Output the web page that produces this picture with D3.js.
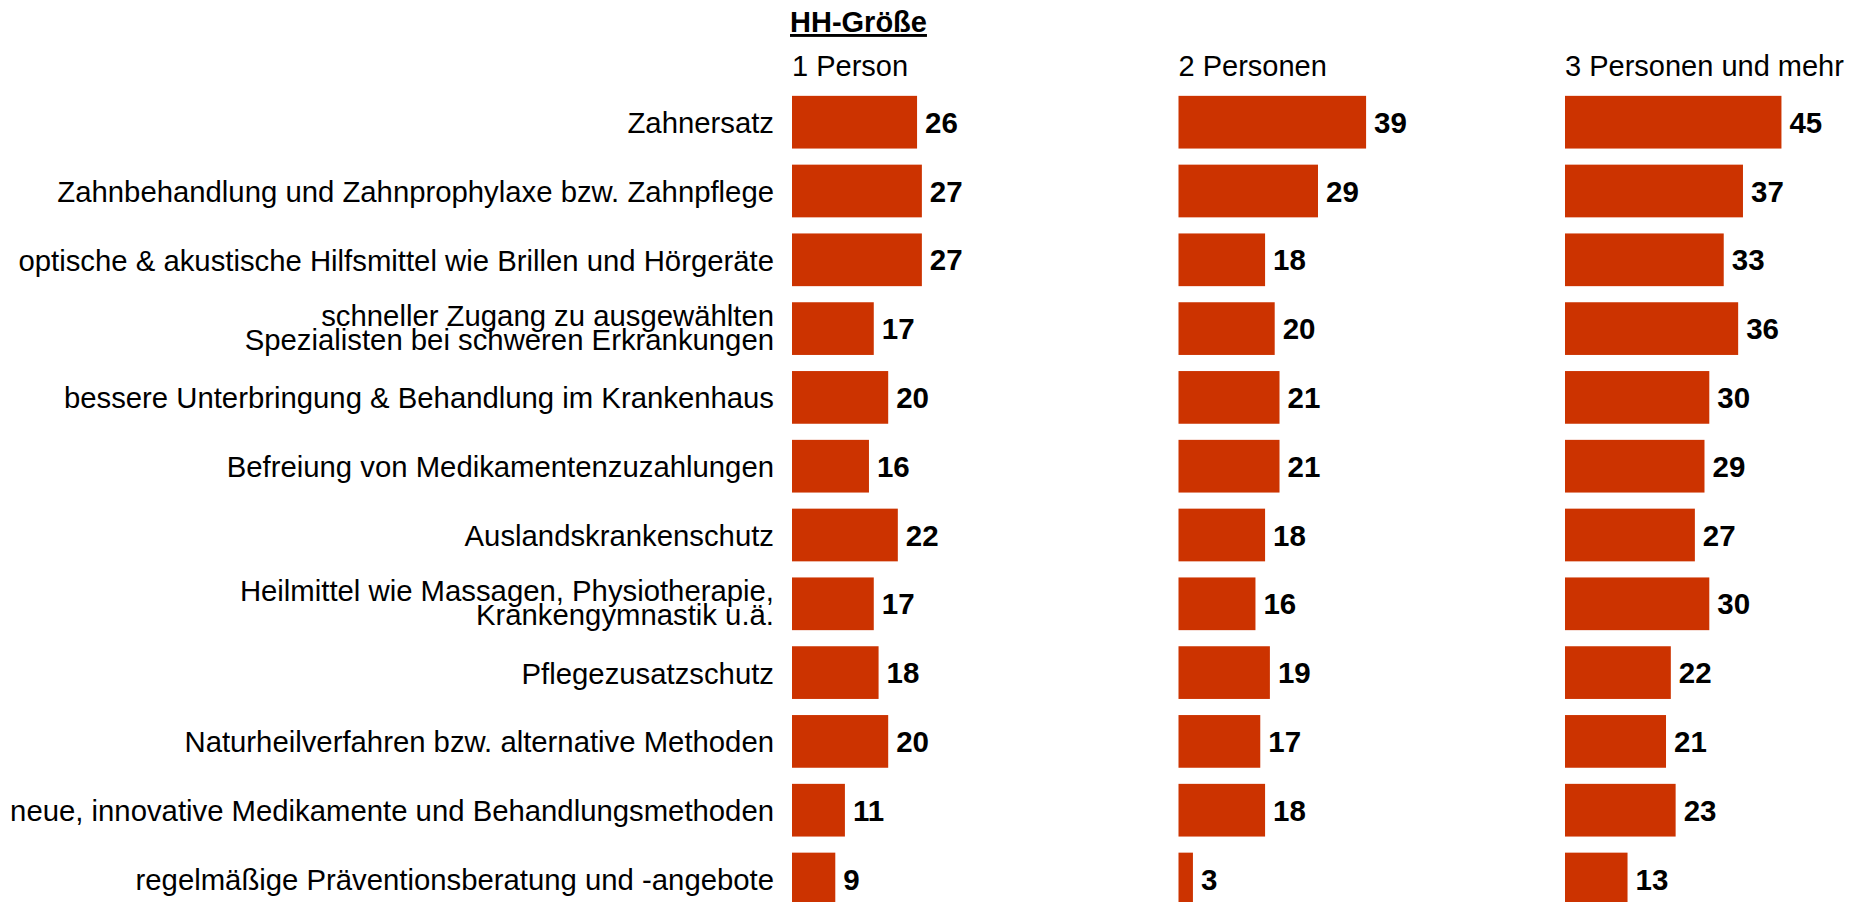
<!doctype html>
<html lang="de">
<head>
  <meta charset="utf-8">
  <title>HH-Größe</title>
  <script src="https://d3js.org/d3.v7.min.js"></script>
  <style>
    body { margin: 0; background: #fff; }
    svg text { font-family: "Liberation Sans", Arial, sans-serif; }
  </style>
</head>
<body>
<svg id="chart" width="1867" height="902"></svg>

<script>
// categories (\n = line break in label)
var categories = [
  "Zahnersatz",
  "Zahnbehandlung und Zahnprophylaxe bzw. Zahnpflege",
  "optische & akustische Hilfsmittel wie Brillen und Hörgeräte",
  "schneller Zugang zu ausgewählten\nSpezialisten bei schweren Erkrankungen",
  "bessere Unterbringung & Behandlung im Krankenhaus",
  "Befreiung von Medikamentenzuzahlungen",
  "Auslandskrankenschutz",
  "Heilmittel wie Massagen, Physiotherapie,\nKrankengymnastik u.ä.",
  "Pflegezusatzschutz",
  "Naturheilverfahren bzw. alternative Methoden",
  "neue, innovative Medikamente und Behandlungsmethoden",
  "regelmäßige Präventionsberatung und -angebote"
];

var groups = ["1 Person", "2 Personen", "3 Personen und mehr"];

var person1  = [26, 27, 27, 17, 20, 16, 22, 17, 18, 20, 11, 9];
var person2  = [39, 29, 18, 20, 21, 21, 18, 16, 19, 17, 18, 3];
var person3p = [45, 37, 33, 36, 30, 29, 27, 30, 22, 21, 23, 13];

var seriesValues = [person1, person2, person3p];

var title = "HH-Größe";

var svg = d3.select("#chart");
var barColor = "#cc3300";

// rows
var y = d3.scaleBand()
  .domain(categories)
  .range([87.8, 913.4])
  .paddingInner(0.234)
  .paddingOuter(0.117);

// panels
var px = d3.scaleBand()
  .domain(groups)
  .range([792, 792 + 3 * 386.5]);

// bar length
var x = d3.scaleLinear()
  .domain([0, 100])
  .range([0, 481]);

// title
svg.append("text")
  .attr("x", 790)
  .attr("y", 32)
  .attr("font-size", 29)
  .attr("font-weight", "bold")
  .attr("text-decoration", "underline")
  .attr("fill", "#000")
  .text(title);

// category labels
var labels = svg.append("g").selectAll("text")
  .data(categories)
  .enter()
  .append("text")
    .attr("x", 774)
    .attr("text-anchor", "end")
    .attr("font-size", 29.3)
    .attr("fill", "#000")
    .attr("dominant-baseline", "central");

labels.each(function(d) {
  var lines = d.split("\n");
  var cy = y(d) + y.bandwidth() / 2;
  var lh = 24;
  var shift = lines.length > 1 ? -2 : 0;
  var t = d3.select(this);
  lines.forEach(function(line, i) {
    t.append("tspan")
      .attr("x", 774)
      .attr("y", cy + shift + (i - (lines.length - 1) / 2) * lh)
      .text(line);
  });
});

// panels
groups.forEach(function(g, gi) {
  var x0 = px(g);
  var panel = svg.append("g").attr("transform", "translate(" + x0 + ",0)");

  panel.append("text")
    .attr("x", 0)
    .attr("y", 76)
    .attr("font-size", 29)
    .attr("fill", "#000")
    .text(g);

  var rows = categories.map(function(c, i) { return { cat: c, v: seriesValues[gi][i] }; });

  panel.selectAll("rect")
    .data(rows)
    .enter()
    .append("rect")
      .attr("x", 0)
      .attr("y", function(d) { return y(d.cat); })
      .attr("width", function(d) { return x(d.v); })
      .attr("height", y.bandwidth())
      .attr("fill", barColor);

  panel.selectAll("text.val")
    .data(rows)
    .enter()
    .append("text")
      .attr("class", "val")
      .attr("x", function(d) { return x(d.v) + 8; })
      .attr("y", function(d) { return y(d.cat) + y.bandwidth() / 2; })
      .attr("dominant-baseline", "central")
      .attr("font-size", 29.5)
      .attr("font-weight", "bold")
      .attr("fill", "#000")
      .text(function(d) { return d.v; });
});
</script>
</body>
</html>
